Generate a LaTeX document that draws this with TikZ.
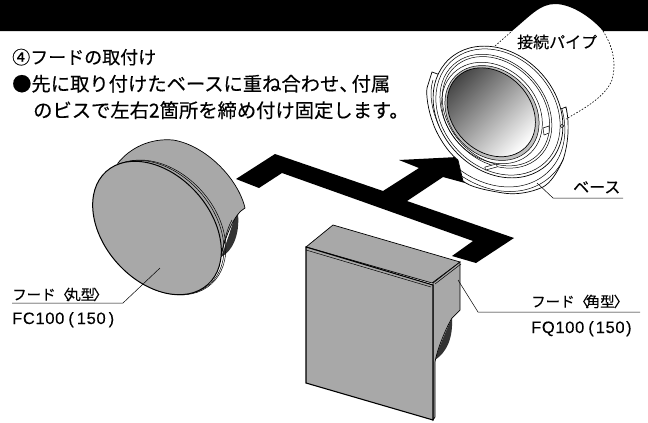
\documentclass[tikz,border=0pt]{standalone}
\usepackage{fontspec}
\newfontfamily\jpf[FakeBold=0.35]{Noto Sans CJK JP}
\setmainfont{Liberation Sans}
\newfontfamily\codef[LetterSpace=4,FakeBold=0.15]{Liberation Sans}
\definecolor{hood}{gray}{0.66}
\def\flangepath{(558,110) -- (566,107) .. controls (570,125) and (568,145) .. (563,160) .. controls (556,175) and (550,183) .. (543,187) .. controls (530,193) and (515,195) .. (503,193) .. controls (485,190) and (470,187) .. (463,181) -- (458,160) .. controls (445,150) and (435,130) .. (433,123) .. controls (428,110) and (426,95) .. (427,88) -- (432,72) -- (443,76) -- cycle}
\tikzset{
  lbl/.style={inner sep=0pt,anchor=base west},
  bodytxt/.style={lbl,font=\jpf\fontsize{19.3}{19}\selectfont},
  headtxt/.style={lbl,font=\jpf\fontsize{18}{19}\selectfont},
  part/.style={lbl,font=\jpf\fontsize{14.5}{15}\selectfont},
  partb/.style={lbl,font=\jpf\fontsize{16}{16}\selectfont},
  codetxt/.style={lbl,font=\codef\fontsize{16.5}{17}\selectfont},
  leader/.style={draw,line width=0.5pt},
  edge/.style={draw=black,line width=0.7pt},
  thinl/.style={draw=black,line width=0.5pt},
  hoodface/.style={fill=hood,draw=black,line width=0.7pt},
  arrowblk/.style={fill=black,draw=none},
  dashl/.style={draw=black,line width=0.6pt,dash pattern=on 1.6pt off 1.6pt},
}
\begin{document}
\begin{tikzpicture}[x=1pt,y=-1pt]
\useasboundingbox (0,0) rectangle (648,423);
% header
\fill[black] (0,0) -- (648,0) -- (648,31) -- (603,31) .. controls (592,18) and (572,4) .. (555,4) .. controls (540,4) and (530,16) .. (512,31) -- (0,31) -- cycle;
% texts
\node[headtxt] (t1) at (12,64) {④フードの取付け};
\node[bodytxt] (t2) at (12,91) {●先に取り付けたベースに重ね合わせ、\kern-7pt 付属};
\node[bodytxt] (t3) at (33,117.5) {のビスで左右2箇所を締め付け固定します。};
% black path
\fill[arrowblk] (236,179) -- (275,154) -- (383,191) -- (419,168) -- (399,160) -- (458,157) -- (465,183) -- (443,177) -- (407,201) -- (514,238) -- (476,263) -- (452,256) -- (473,241) -- (282,173) -- (259,188) -- cycle;
% round hood
\fill[black!80] (236,214) .. controls (232,225) and (226,245) .. (221,257) .. controls (232,252) and (240,235) .. (238,214) -- cycle;
\draw[hoodface] (118,163) .. controls (130,148) and (150,138) .. (173,140) .. controls (205,145) and (238,178) .. (245,208) .. controls (234,214) and (226,235) .. (220,258) -- (200,280) -- (110,190) -- cycle;
\draw[thinl] (232,220) .. controls (226,230) and (224,245) .. (221,257);
\begin{scope}[rotate around={-48:(157,228)}]
\draw[thinl] (159,225) ellipse [x radius=76,y radius=55];
\draw[thinl] (158,226) ellipse [x radius=76,y radius=54];
\draw[hoodface,line width=1pt] (157,228) ellipse [x radius=76,y radius=53];
\end{scope}
% square hood
\draw[hoodface] (306,247) -- (333,225) -- (460,262) -- (432,283) -- cycle;
\fill[black!80] (452,318) .. controls (444,335) and (438,350) .. (435,360) .. controls (447,352) and (453,338) .. (452,318) -- cycle;
\draw[hoodface] (433,283) -- (460,262) -- (460,310) -- (452,318) .. controls (445,330) and (437,350) .. (435,362) -- (435,417) -- (433,420) -- cycle;
\draw[hoodface,line width=1.1pt] (306,247) -- (433,285) -- (433,420) -- (306,383) -- cycle;
\draw[thinl] (306,250) -- (431,287);
\draw[thinl] (435,284) -- (461,264);
% base
\filldraw[fill=white,edge] \flangepath;
\begin{scope}
\clip \flangepath;
\begin{scope}[rotate around={-47:(498,112)}]
\draw[thinl] (496,117) ellipse [x radius=80,y radius=64];
\draw[thinl] (496,117) ellipse [x radius=85,y radius=68];
\end{scope}
\end{scope}
\draw[thinl] (433,80) .. controls (429,92) and (431,110) .. (440,128);
\begin{scope}[rotate around={-47:(498,112)}]
\filldraw[fill=white,edge] (498,112) ellipse [x radius=72,y radius=58];
\draw[thinl] (498,112) ellipse [x radius=69,y radius=55.5];
\draw[thinl] (496,113) ellipse [x radius=63,y radius=49];
\draw[thinl] (496,113) ellipse [x radius=60.5,y radius=47];
\end{scope}
\begin{scope}[rotate around={-46:(492,113)}]
\draw[thinl] (492,113) ellipse [x radius=55.5,y radius=45];
\filldraw[fill=black!25,thinl] (492,113) ellipse [x radius=52,y radius=42];
\shade[top color=black!72,bottom color=white,shading angle=45] (491,113) ellipse [x radius=49,y radius=39];
\draw[edge] (491,113) ellipse [x radius=49,y radius=39];
\end{scope}
\draw[thinl] (562,126) circle [radius=1.8];
\draw[thinl,fill=white,rotate around={15:(491,167)}] (485,165.5) rectangle (497,168.5);
\draw[thinl,fill=white] (543,128) -- (549,126) -- (549,133) -- (544,135) -- cycle;
% pipe outline
\coordinate (pipeA) at (495,46);
\coordinate (pipeTL) at (512,31);
\coordinate (pipeTR) at (603,31);
\coordinate (pipeB) at (566,119);
\draw[dashl] (pipeA) -- (pipeTL);
\draw[dashl] (pipeTR) .. controls (612,45) and (617,62) .. (612,80) .. controls (605,97) and (585,108) .. (pipeB);
% labels
\node[partb] (pipe) at (517,48) {接続パイプ};
\node[partb] (be) at (573,193) {ベース};
\node[part] (fc) at (12,300) {フード〈\kern-4pt 丸型\kern-2pt 〉};
\node[codetxt] (fcc) at (12,324) {FC100\kern4pt(\kern3pt 150\kern3pt)};
\node[part] (fq) at (531,307) {フード〈\kern-3.5pt 角型\kern-1pt 〉};
\node[codetxt] (fqc) at (531,333) {FQ100\kern4pt(\kern2pt 150\kern1.5pt)};
% leaders
\coordinate (fcA) at (160,268);
\coordinate (fcB) at (123,303);
\coordinate (fcC) at (12,303);
\coordinate (fqA) at (458,280);
\coordinate (fqB) at (478,312);
\coordinate (fqC) at (640,312);
\coordinate (beA) at (537,183);
\coordinate (beB) at (553,198);
\coordinate (beC) at (623,198);
\draw[leader] (fcA) -- (fcB) -- (fcC);
\draw[leader] (fqA) -- (fqB) -- (fqC);
\draw[leader] (beA) -- (beB) -- (beC);
\end{tikzpicture}
\end{document}
